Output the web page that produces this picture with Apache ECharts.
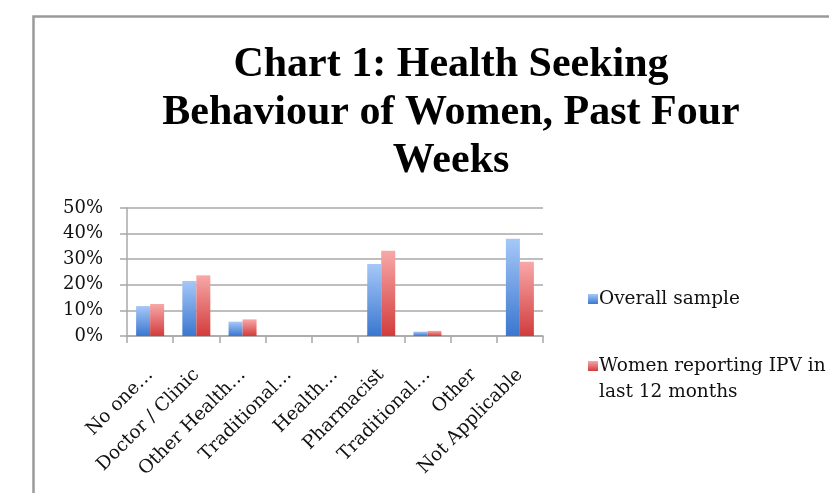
<!DOCTYPE html>
<html><head><meta charset="utf-8">
<script src="https://cdn.jsdelivr.net/npm/echarts@6/dist/echarts.min.js"></script>
<style>html,body{margin:0;padding:0;background:#fff}#c{width:829px;height:493px}</style>
</head><body><div id="c"></div>
<script>
var titleText = 'Chart 1: Health Seeking\nBehaviour of Women, Past Four\nWeeks';
var categories = ['No one…', 'Doctor / Clinic', 'Other Health…', 'Traditional…', 'Health…', 'Pharmacist', 'Traditional…', 'Other', 'Not Applicable'];
var seriesNames = ['Overall sample', 'Women reporting IPV in\nlast 12 months'];
var overallSample = [11.7, 21.5, 5.6, 0, 0, 28.1, 1.7, 0, 38.0];
var ipvWomen = [12.5, 23.7, 6.5, 0, 0, 33.3, 2.0, 0, 29.0];
var yTicks = [0, 10, 20, 30, 40, 50];

var serif = '"Liberation Serif", "DejaVu Serif", serif';
var wideSerif = '"DejaVu Serif", "Liberation Serif", serif';
function grad(top, bottom) {
  return new echarts.graphic.LinearGradient(0, 0, 0, 1, [{offset: 0, color: top}, {offset: 1, color: bottom}]);
}
var chart = echarts.init(document.getElementById('c'));
chart.setOption({
  animation: false,
  backgroundColor: '#fff',
  graphic: [{
    type: 'rect', shape: {x: 33.5, y: 16.5, width: 900, height: 600},
    style: {fill: 'none', stroke: '#9a9a9a', lineWidth: 2.5}, z: -1
  }],
  title: {
    text: titleText, left: 446, top: 36, textAlign: 'center',
    textStyle: {fontFamily: serif, fontWeight: 'bold', fontSize: 42, lineHeight: 48, color: '#000'}
  },
  legend: {
    orient: 'vertical', left: 583, top: 281, itemGap: 15, itemWidth: 10, itemHeight: 10,
    icon: 'rect',
    formatter: function (n) { return n.indexOf('\n') >= 0 ? ' \n' + n : n; },
    textStyle: {fontFamily: wideSerif, fontSize: 18.5, lineHeight: 26, color: '#111', padding: [0, 0, 0, -4]}
  },
  grid: {left: 127, top: 208, width: 416, height: 128, containLabel: false},
  xAxis: {
    type: 'category', data: categories,
    axisLine: {lineStyle: {color: '#a8a8a8', width: 1.5}},
    axisTick: {show: true, length: 7, lineStyle: {color: '#a8a8a8', width: 1.5}},
    axisLabel: {rotate: 45, interval: 0, margin: 36, fontFamily: wideSerif, fontSize: 18.5, color: '#111'}
  },
  yAxis: {
    type: 'value', min: 0, max: 50, interval: 10,
    axisLine: {show: true, lineStyle: {color: '#a8a8a8', width: 1.5}},
    axisTick: {show: true, length: 7, lineStyle: {color: '#a8a8a8', width: 1.5}},
    splitLine: {lineStyle: {color: '#a8a8a8', width: 1.5}},
    axisLabel: {margin: 24, fontFamily: wideSerif, fontSize: 18, color: '#111', formatter: function (v) { return yTicks.indexOf(v) >= 0 ? v + '%' : ''; }}
  },
  series: [
    {name: seriesNames[0], type: 'bar', data: overallSample, barWidth: 14, barGap: '0%',
     itemStyle: {color: grad('#a6c8f8', '#3a77cf')}},
    {name: seriesNames[1], type: 'bar', data: ipvWomen, barWidth: 14, barGap: '0%',
     itemStyle: {color: grad('#f8a8a8', '#d23c3c')}}
  ]
});
</script></body></html>
